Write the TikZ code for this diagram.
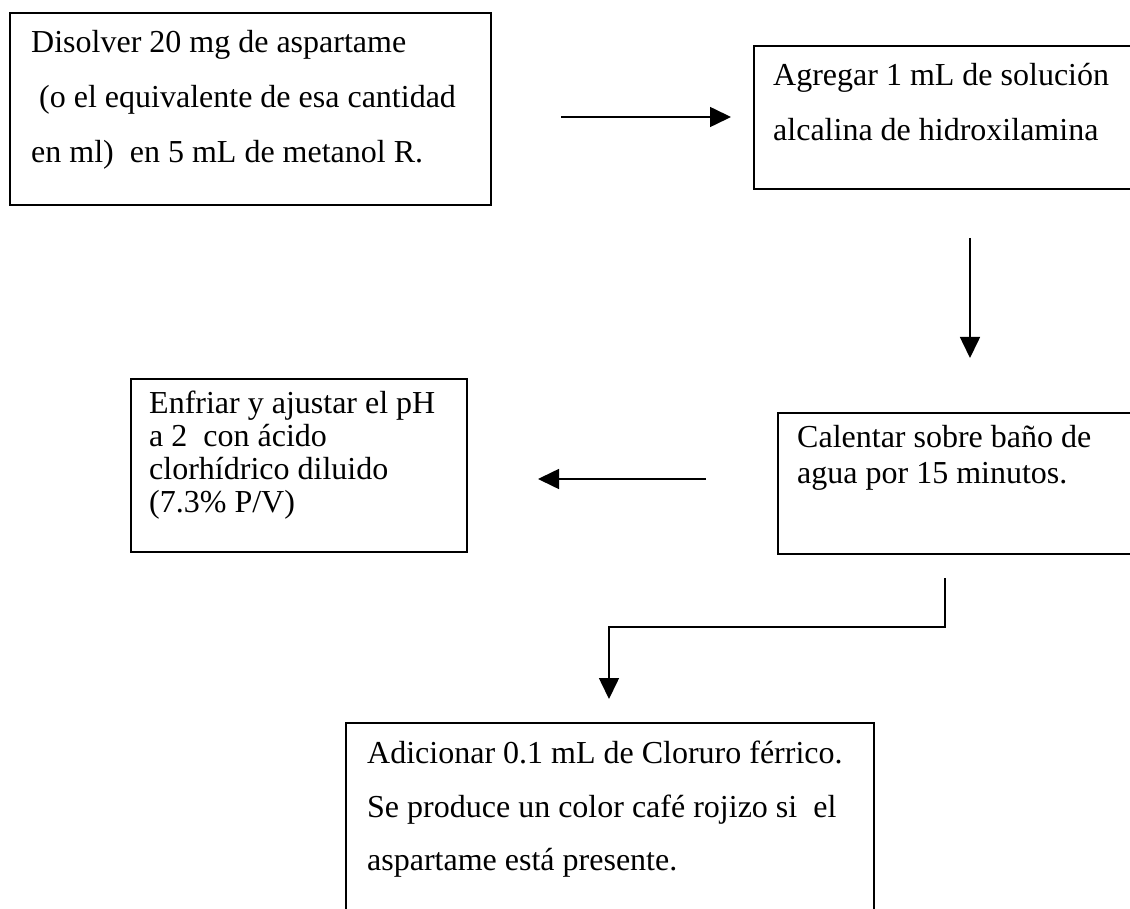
\documentclass[tikz,border=0pt]{standalone}
\usepackage{fontspec}
\setmainfont{Liberation Serif}
\usetikzlibrary{arrows.meta}
\begin{document}
\begin{tikzpicture}[x=1pt,y=-1pt,
  box/.style={draw=black, line width=1.6pt, fill=none, anchor=north west, inner sep=0pt},
  txt/.style={anchor=base west, inner sep=0pt, font=\fontsize{32}{38}\selectfont},
  arr/.style={draw=black, line width=1.6pt, -{Triangle[length=21pt,width=20pt]}}]
\useasboundingbox (0,0) rectangle (1130,909);
\clip (0,0) rectangle (1130,909);
\fill[white] (0,0) rectangle (1130,909);

% boxes
\node[box, minimum width=481pt, minimum height=192pt] (b1) at (9,12) {};
\node[box, minimum width=400pt, minimum height=143pt] (b2) at (753,45) {};
\node[box, minimum width=380pt, minimum height=141pt] (b3) at (777,412) {};
\node[box, minimum width=336pt, minimum height=173pt] (b4) at (130,378) {};
\node[box, minimum width=528pt, minimum height=220pt] (b5) at (345,722) {};

% texts
\node[txt] (t1a) at (31,53)  {Disolver 20 mg de aspartame};
\node[txt] (t1b) at (39,108) {(o el equivalente de esa cantidad};
\node[txt] (t1c) at (31,163) {en ml)\ \ en 5 mL de metanol R.};

\node[txt] (t2a) at (773,86)  {Agregar 1 mL de solución};
\node[txt] (t2b) at (773,141) {alcalina de hidroxilamina};

\node[txt] (t3a) at (797,447) {Calentar sobre baño de};
\node[txt] (t3b) at (797,483) {agua por 15 minutos.};

\node[txt] (t4a) at (149,413) {Enfriar y ajustar el pH};
\node[txt] (t4b) at (149,446) {a 2\ \ con ácido};
\node[txt] (t4c) at (149,479) {clorhídrico diluido};
\node[txt] (t4d) at (149,512) {(7.3\% P/V)};

\node[txt] (t5a) at (367,763) {Adicionar 0.1 mL de Cloruro férrico.};
\node[txt] (t5b) at (367,817) {Se produce un color café rojizo si\ \ el};
\node[txt] (t5c) at (367,870) {aspartame está presente.};

% connector end points
\coordinate (c1s) at (561,117);
\coordinate (c1e) at (731,117);
\coordinate (c2s) at (970,238);
\coordinate (c2e) at (970,358);
\coordinate (c3s) at (706,479);
\coordinate (c3e) at (538,479);
\coordinate (c4s) at (945,578);
\coordinate (c4a) at (945,627);
\coordinate (c4b) at (609,627);
\coordinate (c4e) at (609,699);

% connectors
\draw[arr] (c1s) -- (c1e);
\draw[arr] (c2s) -- (c2e);
\draw[arr] (c3s) -- (c3e);
\draw[arr] (c4s) -- (c4a) -- (c4b) -- (c4e);
\end{tikzpicture}
\end{document}
